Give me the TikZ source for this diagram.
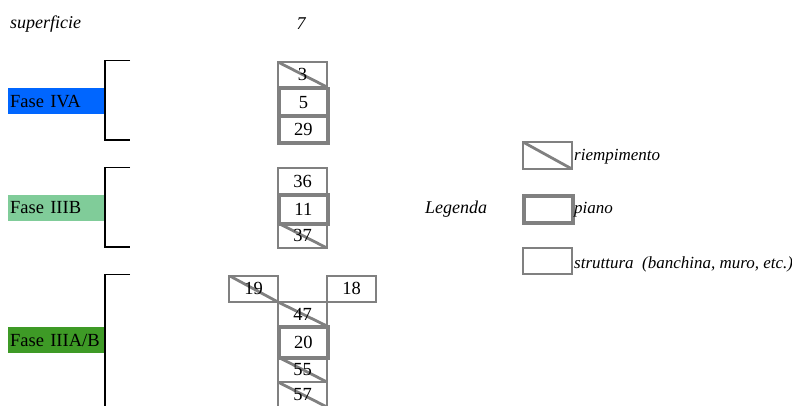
\documentclass[tikz,border=0pt]{standalone}
\usepackage{fontspec}
\setmainfont{Liberation Serif}
\definecolor{gr}{HTML}{808080}
\definecolor{fblue}{HTML}{0066FF}
\definecolor{flgreen}{HTML}{80CC99}
\definecolor{fdgreen}{HTML}{3E9A26}
\begin{document}
\begin{tikzpicture}[x=1pt,y=-1pt,
  cell/.style={draw=gr, line width=2.1pt, minimum width=49pt, inner sep=0pt, anchor=north west, font=\fontsize{18.5}{18.5}\selectfont},
  riemp/.style={cell, path picture={\draw[gr, line width=2.8pt] (path picture bounding box.north west) -- (path picture bounding box.south east);}},
  pianobox/.style={cell, line width=3.8pt},
  strutt/.style={cell},
  fase/.style={anchor=north west, minimum width=97pt, minimum height=26pt, inner sep=2pt, text width=93pt, align=left, font=\fontsize{18.5}{18.5}\selectfont},
  brk/.style={draw=black, line width=1.4pt},
  lbl/.style={font=\itshape\fontsize{18}{18}\selectfont, inner sep=1pt},
  leg/.style={font=\itshape\fontsize{17}{17}\selectfont, inner sep=1pt, anchor=west}
]
\useasboundingbox (0,0) rectangle (792,405);
% titles
\node[lbl, anchor=west] (sup) at (9,24) {superficie};
\node[lbl] (seven) at (301,24) {7};
% Fase IVA
\node[fase, fill=fblue] (fIVA) at (8,88) {Fase IVA};
\coordinate (a1) at (130,60.5); \coordinate (a2) at (105,60.5);
\coordinate (a3) at (105,140); \coordinate (a4) at (130,140);
\draw[brk] (a1) -- (a2) -- (a3) -- (a4);
\node[riemp, minimum height=25pt] (b3) at (277,61) {3};
\node[pianobox, minimum height=27.5pt] (b5) at (277,86.5) {5};
\node[pianobox, minimum height=27pt] (b29) at (277,114) {29};
% Fase IIIB
\node[fase, fill=flgreen] (fIIIB) at (8,194.5) {Fase IIIB};
\coordinate (c1) at (130,167.5); \coordinate (c2) at (105,167.5);
\coordinate (c3) at (105,247); \coordinate (c4) at (130,247);
\draw[brk] (c1) -- (c2) -- (c3) -- (c4);
\node[strutt, minimum height=26pt] (b36) at (277,167) {36};
\node[pianobox, minimum height=29pt] (b11) at (277,193) {11};
\node[riemp, minimum height=25pt] (b37) at (277,222) {37};
% Fase IIIA/B
\node[fase, fill=fdgreen] (fIIIAB) at (8,327) {Fase IIIA/B};
\coordinate (d1) at (130,274.5); \coordinate (d2) at (105,274.5);
\coordinate (d3) at (105,410);
\draw[brk] (d1) -- (d2) -- (d3);
\node[riemp, minimum height=26.5pt] (b19) at (228,274.5) {19};
\node[strutt, minimum height=26.5pt] (b18) at (326,274.5) {18};
\node[riemp, minimum height=24pt] (b47) at (277,301) {47};
\node[pianobox, minimum height=31pt] (b20) at (277,325) {20};
\node[riemp, minimum height=25pt] (b55) at (277,356) {55};
\node[riemp, minimum height=25pt] (b57) at (277,381) {57};
% Legend
\node[lbl] (legenda) at (456,209) {Legenda};
\node[riemp, minimum height=27pt] (lr) at (522,141) {};
\node[pianobox, minimum height=27pt] (lp) at (522,194) {};
\node[strutt, minimum height=26pt] (ls) at (522,247) {};
\node[leg] (tr) at (573,157) {riempimento};
\node[leg] (tp) at (573,210) {piano};
\node[leg] (ts) at (573,264) {struttura\ \ (banchina, muro, etc.)};
\end{tikzpicture}
\end{document}
